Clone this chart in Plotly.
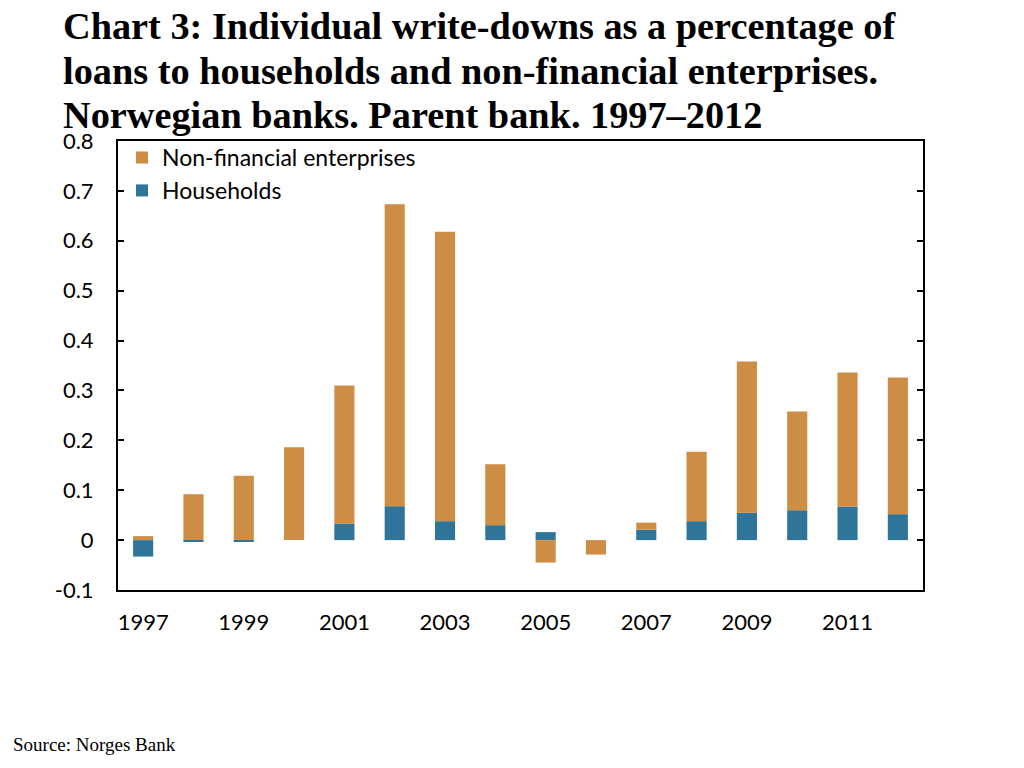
import plotly.graph_objects as go

years = list(range(1997, 2013))
households = [-0.033, -0.003, -0.003, 0.0, 0.033, 0.068, 0.038, 0.030,
              0.016, 0.0, 0.021, 0.038, 0.055, 0.060, 0.067, 0.052]
non_financial = [0.008, 0.092, 0.129, 0.186, 0.277, 0.605, 0.580, 0.122,
                 -0.045, -0.029, 0.014, 0.139, 0.303, 0.198, 0.269, 0.274]
label_years = [1997, 1999, 2001, 2003, 2005, 2007, 2009, 2011]
boundaries = [y + 0.5 for y in years[:-1]]
y_ticks = [-0.1, 0, 0.1, 0.2, 0.3, 0.4, 0.5, 0.6, 0.7, 0.8]
y_tick_labels = ["-0.1", "0", "0.1", "0.2", "0.3", "0.4", "0.5", "0.6", "0.7", "0.8"]

title_lines = ["Chart 3: Individual write-downs as a percentage of",
               "loans to households and non-financial enterprises.",
               "Norwegian banks. Parent bank. 1997\u20132012"]

blue = "#2E7599"
orange = "#CE8D45"
tick_font = dict(family="Lato, Open Sans, sans-serif", size=22, color="black")
serif = "Liberation Serif, Times New Roman, serif"

fig = go.Figure()
fig.add_bar(x=years, y=households, name="Households",
            marker=dict(color=blue, line=dict(width=0)))
fig.add_bar(x=years, y=non_financial, name="Non-financial enterprises",
            marker=dict(color=orange, line=dict(width=0)))

# title written line by line so the spacing can be tighter than plotly's default
title_notes = []
for i, line in enumerate(title_lines):
    title_notes.append(dict(text="<b>" + line + "</b>", xref="paper", yref="paper",
                            x=-0.071, y=1.257 - i * 0.1, xanchor="left",
                            yanchor="middle", align="left", showarrow=False,
                            font=dict(family=serif, size=38.3, color="black")))

# page has ~8px body margin, so margins are shifted up/left by 8
fig.update_layout(
    width=1024, height=768,
    barmode="relative", bargap=0.6,
    plot_bgcolor="white", paper_bgcolor="white",
    margin=dict(l=110, r=109, t=133, b=186),
    showlegend=True,
    legend=dict(x=0.005, y=1.011, xanchor="left", yanchor="top",
                traceorder="reversed",
                font=dict(family="Lato, Open Sans, sans-serif", size=23, color="black"),
                bgcolor="rgba(0,0,0,0)", itemwidth=30, tracegroupgap=0),
    xaxis=dict(range=[1996.5, 2012.5], tickvals=label_years,
               ticks="", showgrid=False, zeroline=False,
               showline=True, mirror=True, linecolor="black", linewidth=2,
               tickfont=tick_font, ticklabelstandoff=12),
    xaxis2=dict(range=[1996.5, 2012.5], overlaying="x", anchor="free",
                position=1 / 9, tickvals=boundaries, ticks="inside",
                ticklen=8, tickwidth=1.5, tickcolor="black",
                showticklabels=False, showgrid=False, zeroline=False,
                showline=True, linecolor="black", linewidth=1.5),
    yaxis=dict(range=[-0.1, 0.8], tickvals=y_ticks, ticktext=y_tick_labels,
               ticks="inside", ticklen=6, tickwidth=1.5, tickcolor="black",
               showgrid=False, zeroline=False,
               showline=True, mirror="ticks", linecolor="black", linewidth=2,
               tickfont=tick_font, ticklabelstandoff=18),
    yaxis2=dict(range=[-0.1, 0.8], overlaying="y", side="right",
                tickvals=y_ticks, ticktext=y_tick_labels, ticks="",
                showgrid=False, zeroline=False, showline=False,
                tickfont=tick_font, ticklabelstandoff=32),
    annotations=title_notes + [
        dict(text="Source: Norges Bank", xref="paper", yref="paper",
             x=-0.133, y=-0.345, xanchor="left", yanchor="middle",
             showarrow=False, font=dict(family=serif, size=19, color="black")),
    ],
)

fig.write_html("out.html")
